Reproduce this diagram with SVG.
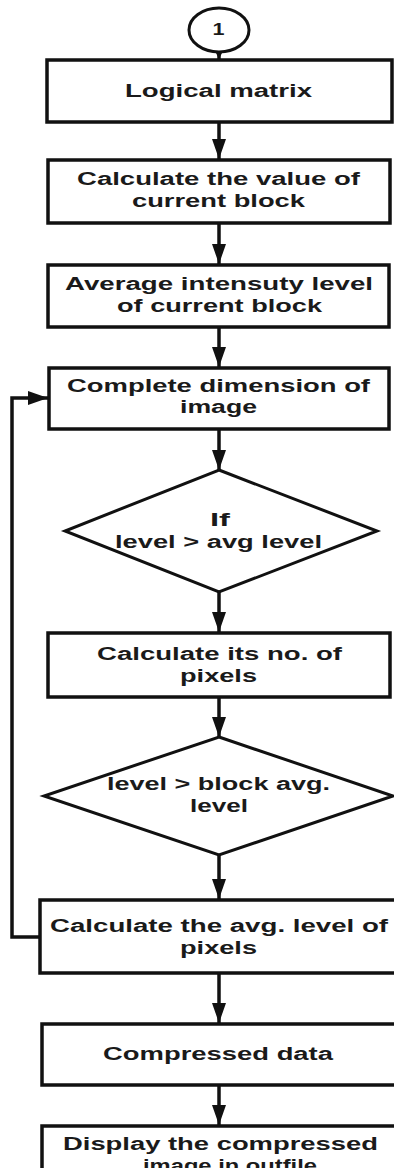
<svg xmlns="http://www.w3.org/2000/svg" width="394" height="1168" viewBox="0 0 394 1168">
<style>
.box{fill:#fff;stroke:#111;stroke-width:3.5}
.dia{fill:#fff;stroke:#111;stroke-width:3}
.t{font-family:"Liberation Sans",Arial,sans-serif;font-weight:bold;font-size:18px;fill:#1a1a1a}
.ln{fill:none;stroke:#111;stroke-width:3.5}
</style>
<defs>
<marker id="ah" viewBox="0 0 20 14" refX="20" refY="7" markerWidth="20" markerHeight="14" markerUnits="userSpaceOnUse" orient="auto">
<path d="M0,0 L20,7 L0,14 Z" fill="#111"/>
</marker>
<marker id="ahs" viewBox="0 0 10 9" refX="9" refY="4.5" markerWidth="10" markerHeight="9" markerUnits="userSpaceOnUse" orient="auto">
<path d="M0,0 L9,4.5 L0,9 Z" fill="#111"/>
</marker>
</defs>
<rect width="394" height="1168" fill="#fff"/>
<g id="connectors">
<line class="ln" stroke-width="2" x1="219" y1="52" x2="219" y2="59" marker-end="url(#ahs)"/>
<line class="ln" x1="219" y1="122" x2="219" y2="159" marker-end="url(#ah)"/>
<line class="ln" x1="219" y1="223" x2="219" y2="264" marker-end="url(#ah)"/>
<line class="ln" x1="219" y1="327" x2="219" y2="367" marker-end="url(#ah)"/>
<line class="ln" x1="219" y1="429" x2="219" y2="470" marker-end="url(#ah)"/>
<line class="ln" x1="219" y1="592" x2="219" y2="632" marker-end="url(#ah)"/>
<line class="ln" x1="219" y1="697" x2="219" y2="737" marker-end="url(#ah)"/>
<line class="ln" x1="219" y1="855" x2="219" y2="899" marker-end="url(#ah)"/>
<line class="ln" x1="219" y1="973" x2="219" y2="1023" marker-end="url(#ah)"/>
<line class="ln" x1="219" y1="1085" x2="219" y2="1125" marker-end="url(#ah)"/>
<polyline class="ln" points="40,937 12,937 12,398 48,398" marker-end="url(#ah)"/>
</g>
<g id="n0">
<ellipse cx="219" cy="30" rx="30" ry="22" fill="#fff" stroke="#111" stroke-width="3"/>
<text class="t" style="font-size:16px" x="212.5" y="35" textLength="12" lengthAdjust="spacingAndGlyphs">1</text>
</g>
<g id="n1">
<rect class="box" x="47" y="60" width="345" height="62"/>
<text class="t" x="125" y="97" textLength="187" lengthAdjust="spacingAndGlyphs">Logical matrix</text>
</g>
<g id="n2">
<rect class="box" x="48" y="160" width="342" height="63"/>
<text class="t" x="77" y="185" textLength="283" lengthAdjust="spacingAndGlyphs">Calculate the value of</text>
<text class="t" x="132" y="207" textLength="173" lengthAdjust="spacingAndGlyphs">current block</text>
</g>
<g id="n3">
<rect class="box" x="48" y="265" width="341" height="62"/>
<text class="t" x="65" y="290" textLength="308" lengthAdjust="spacingAndGlyphs">Average intensuty level</text>
<text class="t" x="117" y="312" textLength="205" lengthAdjust="spacingAndGlyphs">of current block</text>
</g>
<g id="n4">
<rect class="box" x="49" y="368" width="340" height="61"/>
<text class="t" x="67" y="392" textLength="303" lengthAdjust="spacingAndGlyphs">Complete dimension of</text>
<text class="t" x="180" y="413" textLength="77" lengthAdjust="spacingAndGlyphs">image</text>
</g>
<g id="n5">
<polygon class="dia" points="219,470 377,531 219,592 65,531"/>
<text class="t" x="210" y="526" textLength="20" lengthAdjust="spacingAndGlyphs">If</text>
<text class="t" x="115" y="548" textLength="207" lengthAdjust="spacingAndGlyphs">level &gt; avg level</text>
</g>
<g id="n6">
<rect class="box" x="48" y="633" width="342" height="64"/>
<text class="t" x="97" y="660" textLength="245" lengthAdjust="spacingAndGlyphs">Calculate its no. of</text>
<text class="t" x="180" y="682" textLength="77" lengthAdjust="spacingAndGlyphs">pixels</text>
</g>
<g id="n7">
<polygon class="dia" points="219,737 393,796 219,855 44,796"/>
<text class="t" x="107" y="790" textLength="223" lengthAdjust="spacingAndGlyphs">level &gt; block avg.</text>
<text class="t" x="190" y="812" textLength="58" lengthAdjust="spacingAndGlyphs">level</text>
</g>
<g id="n8">
<rect class="box" x="40" y="900" width="358" height="73"/>
<text class="t" x="50" y="932" textLength="338" lengthAdjust="spacingAndGlyphs">Calculate the avg. level of</text>
<text class="t" x="180" y="954" textLength="77" lengthAdjust="spacingAndGlyphs">pixels</text>
</g>
<g id="n9">
<rect class="box" x="42" y="1024" width="356" height="61"/>
<text class="t" x="103" y="1060" textLength="230" lengthAdjust="spacingAndGlyphs">Compressed data</text>
</g>
<g id="n10">
<rect class="box" x="42" y="1126" width="356" height="60"/>
<text class="t" x="63" y="1150" textLength="315" lengthAdjust="spacingAndGlyphs">Display the compressed</text>
<text class="t" x="143" y="1172" textLength="174" lengthAdjust="spacingAndGlyphs">image in outfile</text>
</g>
</svg>
